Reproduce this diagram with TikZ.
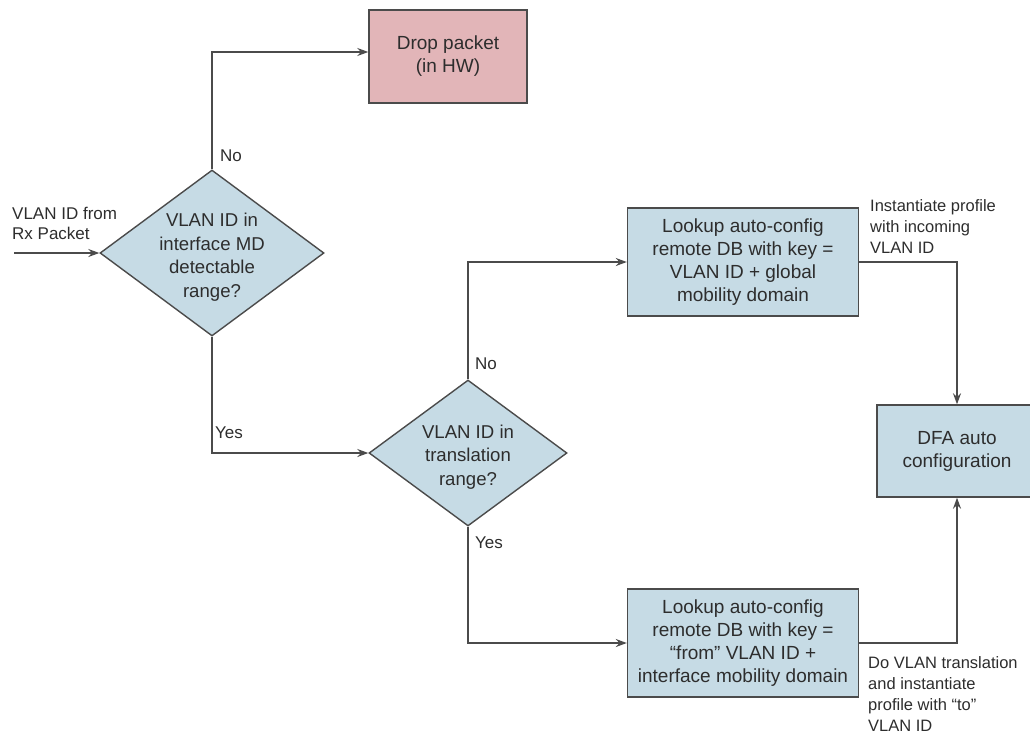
\documentclass[tikz,border=0pt]{standalone}
\usepackage{fontspec}
\setmainfont{Liberation Sans}
\usetikzlibrary{shapes.geometric,arrows.meta}
\definecolor{procfill}{RGB}{198,219,229}
\definecolor{dropfill}{RGB}{226,181,184}
\definecolor{edgegray}{RGB}{75,75,75}
\definecolor{txtgray}{RGB}{45,45,45}
\tikzset{
  procbox/.style={draw=edgegray, line width=1.4pt, fill=procfill, inner sep=0pt,
    align=center, text=txtgray, font=\fontsize{19}{23}\selectfont},
  dropbox/.style={procbox, fill=dropfill},
  decision/.style={diamond, draw=edgegray, line width=1.4pt, fill=procfill, inner sep=0pt},
  dectext/.style={align=center, text=txtgray, font=\fontsize{18.6}{23.5}\selectfont},
  flow/.style={draw=edgegray, line width=1.3pt, -{Stealth[length=11pt,width=8pt]}},
  branch/.style={text=txtgray, inner sep=0pt, font=\fontsize{17}{20}\selectfont},
  note/.style={text=txtgray, inner sep=0pt, align=left, font=\fontsize{16.5}{21}\selectfont},
}
\begin{document}
\begin{tikzpicture}[x=1pt, y=-1pt]
\clip (0,0) rectangle (1030,736);
\useasboundingbox (0,0) rectangle (1030,736);

% decision diamonds
\node[decision, minimum width=224pt, minimum height=166pt] (d1) at (212,253) {};
\node[dectext] (d1t) at (212,257) {VLAN ID in\\interface MD\\detectable\\range?};
\node[decision, minimum width=198pt, minimum height=146pt] (d2) at (468,453) {};
\node[dectext] (d2t) at (468,457) {VLAN ID in\\translation\\range?};

% process boxes
\node[dropbox, minimum width=158pt, minimum height=93pt] (drop) at (448,56.5)
  {Drop packet\\(in HW)};
\node[procbox, minimum width=231pt, minimum height=108pt] (glob) at (743,262)
  {Lookup auto-config\\remote DB with key =\\VLAN ID + global\\mobility domain};
\node[procbox, minimum width=231pt, minimum height=108pt] (intf) at (743,643)
  {Lookup auto-config\\remote DB with key =\\“from” VLAN ID +\\interface mobility domain};
\node[procbox, minimum width=160pt, minimum height=92pt] (dfa) at (957,451)
  {DFA auto\\configuration};

% incoming packet
\coordinate (rx) at (14,253);
\node[note, anchor=west, font=\fontsize{17}{20}\selectfont] (rxlbl) at (12,223)
  {VLAN ID from\\Rx Packet};
\draw[flow] (rx) -- (d1.west);

% branches of the first decision
\draw[flow] (d1.north) |- ([yshift=4.5pt]drop.west);
\node[branch, anchor=west] (d1no) at (220,156) {No};
\draw[flow] (d1.south) |- (d2.west);
\node[branch, anchor=west] (d1yes) at (215,433) {Yes};

% branches of the second decision
\draw[flow] (d2.north) |- (glob.west);
\node[branch, anchor=west] (d2no) at (475,364) {No};
\draw[flow] (d2.south) |- (intf.west);
\node[branch, anchor=west] (d2yes) at (475,543) {Yes};

% into the auto configuration
\draw[flow] (glob.east) -| (dfa.north);
\draw[flow] (intf.east) -| (dfa.south);
\node[note, anchor=west] (instlbl) at (870,227)
  {Instantiate profile\\with incoming\\VLAN ID};
\node[note, anchor=west] (xlatlbl) at (868,694.5)
  {Do VLAN translation\\and instantiate\\profile with “to”\\VLAN ID};
\end{tikzpicture}
\end{document}
